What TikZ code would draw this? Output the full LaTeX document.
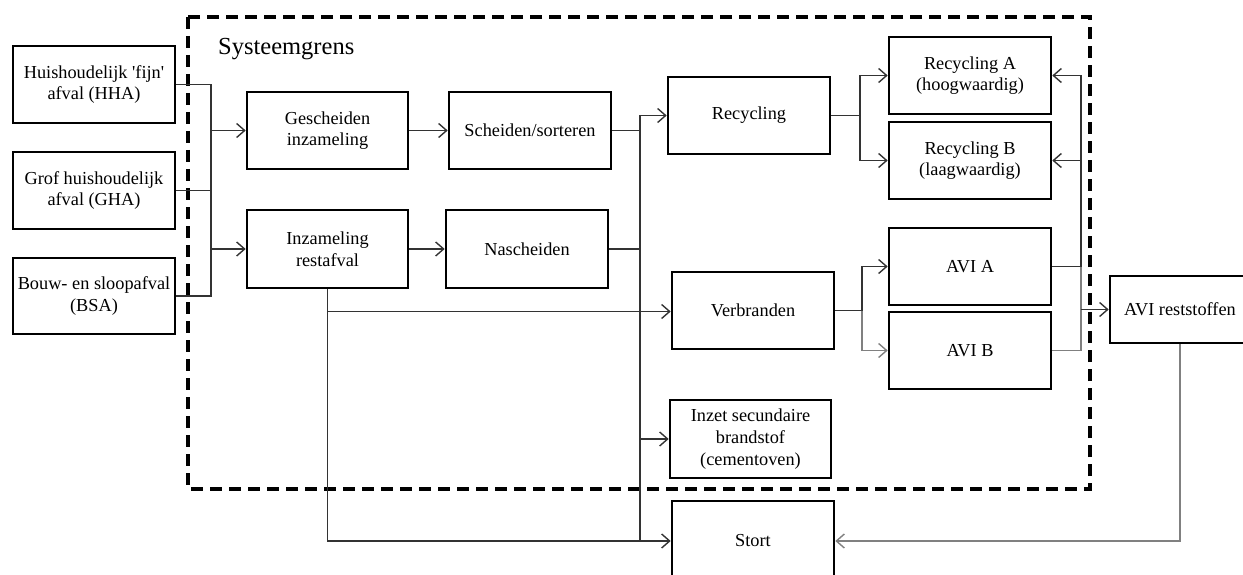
\documentclass[tikz,border=0pt]{standalone}
\usepackage{fontspec}
\setmainfont{Liberation Serif}
\usetikzlibrary{arrows.meta}
\begin{document}
\begin{tikzpicture}[x=1pt,y=-1pt,
  box/.style={draw=black,line width=2.6pt,inner sep=0pt,minimum width=162pt,minimum height=77pt,
    align=center,font=\fontsize{18.3}{21.6}\selectfont},
  conn/.style={draw=black!80,line width=1.4pt},
  lconn/.style={draw=black!50,line width=1.4pt},
  arr/.style={-{Straight Barb[length=8pt,width=14pt,line width=1.4pt]}}]
\useasboundingbox (0,0) rectangle (1243,575);
% boundary
\draw[line width=3.2pt,dash pattern=on 12pt off 7pt] (188,17) rectangle (1090,489);
\node[anchor=base west,font=\fontsize{24.5}{28}\selectfont,inner sep=0pt] (sg) at (218,55) {Systeemgrens};
% nodes
\node[box] (hha) at (94,84.5) {Huishoudelijk \textquotesingle fijn\textquotesingle\\afval (HHA)};
\node[box] (gha) at (94,190.5) {Grof huishoudelijk\\afval (GHA)};
\node[box,minimum height=76pt] (bsa) at (94,296) {Bouw- en sloopafval\\(BSA)};
\node[box,minimum width=161pt] (ges) at (327.5,130.5) {Gescheiden\\inzameling};
\node[box,minimum width=161pt,minimum height=78pt] (inz) at (327.5,249) {Inzameling\\restafval};
\node[box] (sch) at (530,130.5) {Scheiden/sorteren};
\node[box,minimum height=78pt] (nas) at (527,249) {Nascheiden};
\node[box] (rec) at (749,115.5) {Recycling};
\node[box] (ver) at (753,310.5) {Verbranden};
\node[box,minimum width=161pt,minimum height=78pt] (inzet) at (750.5,439) {Inzet secundaire\\brandstof\\(cementoven)};
\node[box,minimum height=80pt] (stort) at (753,541) {Stort};
\node[box] (reca) at (970,75.5) {Recycling A\\(hoogwaardig)};
\node[box] (recb) at (970,160.5) {Recycling B\\(laagwaardig)};
\node[box] (avia) at (970,266.5) {AVI A};
\node[box] (avib) at (970,350.5) {AVI B};
\node[box,minimum width=140pt,minimum height=67pt] (avir) at (1180,309.5) {AVI reststoffen};
% bus coordinates
\coordinate (b1) at (211,0);
\coordinate (b2) at (640,0);
\coordinate (b3) at (860,0);
\coordinate (b4) at (862,0);
\coordinate (b5) at (1081,0);
\coordinate (vy) at (0,311.5);
% inputs
\draw[conn] (hha.east) -- (hha.east -| b1) -- (bsa.east -| b1) -- (bsa.east);
\draw[conn] (gha.east) -- (gha.east -| b1);
\draw[conn,arr] (ges.west -| b1) -- (ges.west);
\draw[conn,arr] (inz.west -| b1) -- (inz.west);
\draw[conn,arr] (ges.east) -- (sch.west);
\draw[conn,arr] (inz.east) -- (nas.west);
% bus 2
\draw[conn] (sch.east) -- (sch.east -| b2);
\draw[conn] (nas.east) -- (nas.east -| b2);
\draw[conn] (rec.west -| b2) -- (stort.west -| b2);
\draw[conn,arr] (rec.west -| b2) -- (rec.west);
\draw[conn,arr] (inzet.west -| b2) -- (inzet.west);
% restafval direct
\draw[conn,arr] (inz.south) -- (inz.south |- stort.west) -- (stort.west);
\draw[conn,arr] (inz.south |- vy) -- (ver.west |- vy);
% recycling split
\draw[conn] (rec.east) -- (rec.east -| b3);
\draw[conn,arr] (reca.west -| b3) -- (reca.west);
\draw[conn,arr] (reca.west -| b3) -- (recb.west -| b3) -- (recb.west);
% verbranden split
\draw[conn] (ver.east) -- (ver.east -| b4);
\draw[conn,arr] (ver.east -| b4) -- (avia.west -| b4) -- (avia.west);
\draw[lconn,arr] (ver.east -| b4) -- (avib.west -| b4) -- (avib.west);
% AVI outputs
\draw[conn] (avia.east) -- (avia.east -| b5);
\draw[lconn] (avib.east) -- (avib.east -| b5) -- (avia.east -| b5);
\draw[conn] (avia.east -| b5) -- (reca.east -| b5);
\draw[conn,arr] (reca.east -| b5) -- (reca.east);
\draw[conn,arr] (recb.east -| b5) -- (recb.east);
\draw[conn,arr] (avir.west -| b5) -- (avir.west);
% reststoffen to stort
\draw[lconn,arr] (avir.south) -- (avir.south |- stort.east) -- (stort.east);
\end{tikzpicture}
\end{document}
